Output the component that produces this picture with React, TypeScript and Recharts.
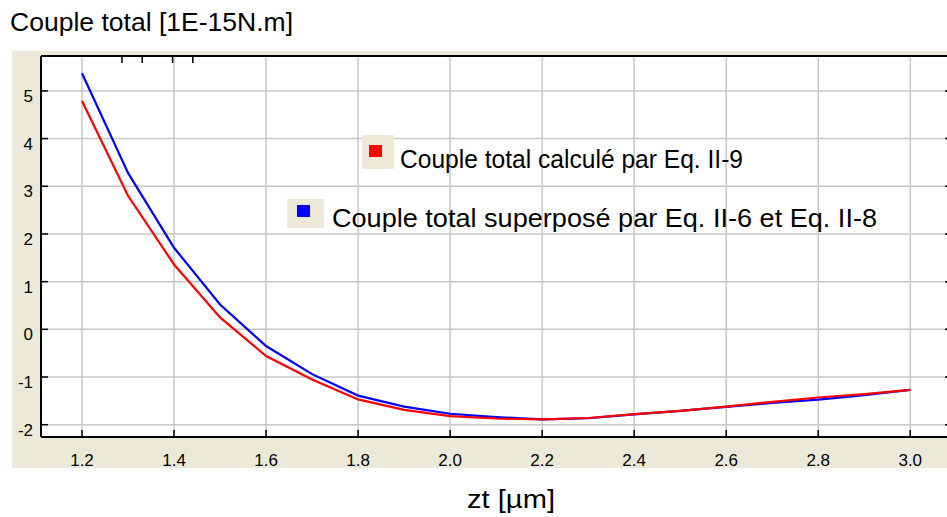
import React from 'react';
import { LineChart, Line, XAxis, YAxis, CartesianGrid } from 'recharts';

const zt = [1.2, 1.3, 1.4, 1.5, 1.6, 1.7, 1.8, 1.9, 2.0, 2.1, 2.2, 2.3, 2.4, 2.5, 2.6, 2.7, 2.8, 2.9, 3.0];
const coupleCalcule = [4.79, 2.8, 1.36, 0.25, -0.56, -1.05, -1.47, -1.69, -1.82, -1.87, -1.89, -1.86, -1.78, -1.71, -1.62, -1.52, -1.43, -1.36, -1.27];
const coupleSuperpose = [5.37, 3.28, 1.71, 0.52, -0.35, -0.94, -1.39, -1.62, -1.77, -1.84, -1.89, -1.865, -1.785, -1.712, -1.625, -1.545, -1.475, -1.38, -1.27];
const xTicks = [1.2, 1.4, 1.6, 1.8, 2.0, 2.2, 2.4, 2.6, 2.8, 3.0];
const yTicks = [-2, -1, 0, 1, 2, 3, 4, 5];
const seriesNames = ['Couple total calculé par Eq. II-9', 'Couple total superposé par Eq. II-6 et Eq. II-8'];
const seriesColors = ['#ff0000', '#0000ff'];
const titleText = 'Couple total [1E-15N.m]';
const xLabelText = 'zt [µm]';

const data = zt.map((x, i) => ({ zt: x, calc: coupleCalcule[i], sup: coupleSuperpose[i] }));

const FONT = '"Liberation Sans", Arial, sans-serif';
const X_DOMAIN: [number, number] = [1.1109, 3.0907];
const Y_DOMAIN: [number, number] = [-2.258, 5.732];

const BottomTick = (props: any) => {
  const { x, y, payload } = props;
  return (
    <g>
      <line x1={x} x2={x} y1={y} y2={y - 7} stroke="#000" strokeWidth={1.5} />
      <text x={x} y={y + 29} textAnchor="middle" fontSize={17} fontFamily={FONT} fill="#000">
        {Number(payload.value).toFixed(1)}
      </text>
    </g>
  );
};

const TopTick = (props: any) => {
  const { x, y } = props;
  return <line x1={x} x2={x} y1={y} y2={y + 7} stroke="#000" strokeWidth={1.5} />;
};

const LeftTick = (props: any) => {
  const { x, y, payload } = props;
  return (
    <g>
      <line x1={x} x2={x + 7} y1={y} y2={y} stroke="#000" strokeWidth={1.5} />
      <text x={x - 8} y={y + 11} textAnchor="end" fontSize={17} fontFamily={FONT} fill="#000">
        {payload.value}
      </text>
    </g>
  );
};

const RightTick = (props: any) => {
  const { x, y } = props;
  return <line x1={x - 7} x2={x} y1={y} y2={y} stroke="#000" strokeWidth={1.5} />;
};

export default function App() {
  return (
    <div style={{ position: 'absolute', left: 0, top: 0, width: 947, height: 517, background: '#fff', overflow: 'hidden' }}>
      <div style={{ position: 'absolute', left: 12, top: 51, width: 950, height: 417, background: '#ece9d8' }} />
      <div style={{ position: 'absolute', left: 0, top: 0 }}>
        <LineChart width={954} height={517} data={data} margin={{ top: 0, right: 0, bottom: 0, left: 0 }}>
          <CartesianGrid stroke="#c8c8c8" strokeWidth={1.5} fill="#ffffff" />
          <XAxis
            dataKey="zt"
            type="number"
            domain={X_DOMAIN}
            allowDataOverflow
            ticks={xTicks}
            height={80}
            tickSize={0}
            tickMargin={0}
            tickLine={false}
            axisLine={{ stroke: '#000', strokeWidth: 2 }}
            tick={BottomTick}
          />
          <XAxis
            xAxisId="top"
            orientation="top"
            type="number"
            domain={X_DOMAIN}
            allowDataOverflow
            ticks={xTicks}
            height={56}
            tickSize={0}
            tickMargin={0}
            tickLine={false}
            axisLine={{ stroke: '#000', strokeWidth: 2 }}
            tick={TopTick}
          />
          <YAxis
            type="number"
            domain={Y_DOMAIN}
            allowDataOverflow
            ticks={yTicks}
            width={41}
            tickSize={0}
            tickMargin={0}
            tickLine={false}
            axisLine={{ stroke: '#000', strokeWidth: 2 }}
            tick={LeftTick}
          />
          <YAxis
            yAxisId="right"
            orientation="right"
            type="number"
            domain={Y_DOMAIN}
            allowDataOverflow
            ticks={yTicks}
            width={2}
            tickSize={0}
            tickMargin={0}
            tickLine={false}
            axisLine={{ stroke: '#000', strokeWidth: 2 }}
            tick={RightTick}
          />
          <Line dataKey="sup" name={seriesNames[1]} stroke={seriesColors[1]} strokeWidth={2.2} dot={false} type="linear" isAnimationActive={false} />
          <Line dataKey="calc" name={seriesNames[0]} stroke={seriesColors[0]} strokeWidth={2.2} dot={false} type="linear" isAnimationActive={false} />
        </LineChart>
      </div>
      <svg width={947} height={517} style={{ position: 'absolute', left: 0, top: 0, pointerEvents: 'none' }}>
        <text x={10} y={31} fontSize={25} fontFamily={FONT} fill="#000" textLength={283} lengthAdjust="spacingAndGlyphs">{titleText}</text>
        <text x={467} y={508} fontSize={25} fontFamily={FONT} fill="#000" textLength={88} lengthAdjust="spacingAndGlyphs">{xLabelText}</text>
        <rect x={362} y={135} width={32} height={34} fill="#ece9d8" />
        <rect x={369} y={145} width={13} height={12} fill={seriesColors[0]} />
        <text x={400} y={168} fontSize={25} fontFamily={FONT} fill="#000" textLength={343} lengthAdjust="spacingAndGlyphs">{seriesNames[0]}</text>
        <rect x={287} y={199} width={37} height={29} fill="#ece9d8" />
        <rect x={297} y={205} width={13} height={12} fill={seriesColors[1]} />
        <text x={332} y={227} fontSize={25} fontFamily={FONT} fill="#000" textLength={545} lengthAdjust="spacingAndGlyphs">{seriesNames[1]}</text>
      </svg>
    </div>
  );
}
